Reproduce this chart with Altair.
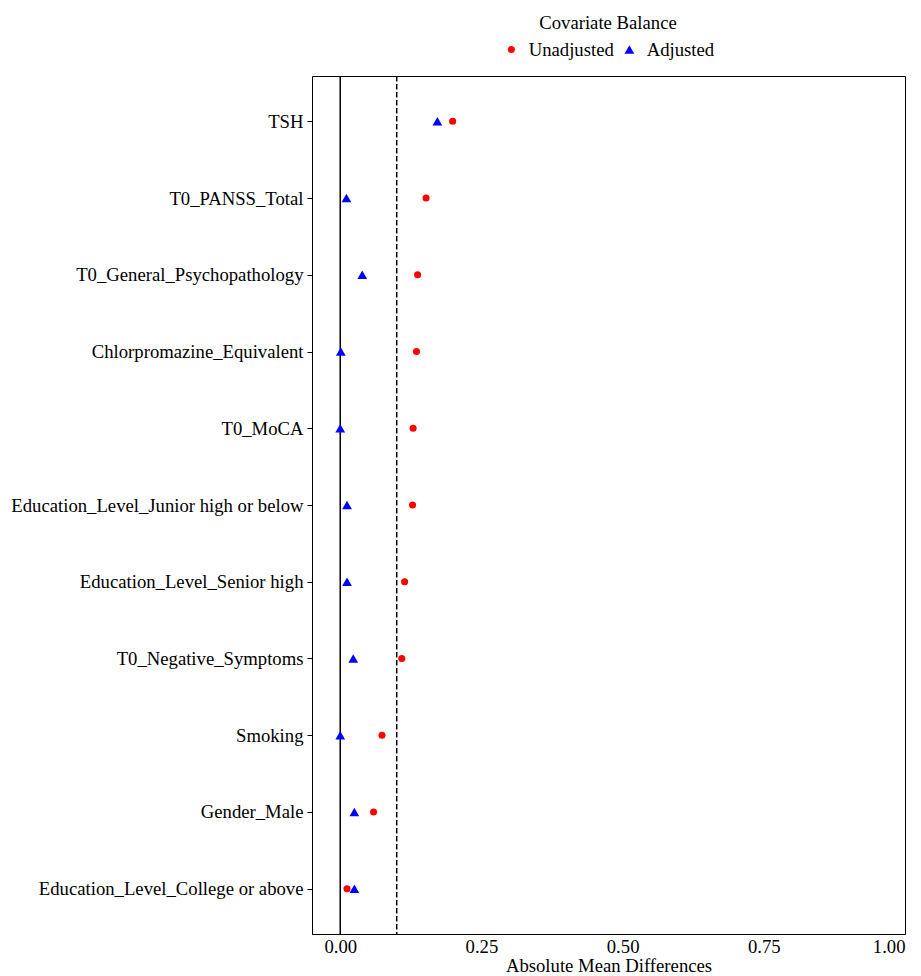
import altair as alt
import pandas as pd

covariates = [
    "TSH",
    "T0_PANSS_Total",
    "T0_General_Psychopathology",
    "Chlorpromazine_Equivalent",
    "T0_MoCA",
    "Education_Level_Junior high or below",
    "Education_Level_Senior high",
    "T0_Negative_Symptoms",
    "Smoking",
    "Gender_Male",
    "Education_Level_College or above",
]
unadjusted = [0.199, 0.152, 0.137, 0.135, 0.129, 0.128, 0.114, 0.109, 0.074, 0.059, 0.012]
adjusted = [0.172, 0.011, 0.039, 0.001, 0.000, 0.012, 0.012, 0.023, 0.000, 0.025, 0.025]
series_names = ["Unadjusted", "Adjusted"]
x_ticks = [0.0, 0.25, 0.5, 0.75, 1.0]
threshold = [0.1]
zero_line = [0.0]

rows = []
for c, u in zip(covariates, unadjusted):
    rows.append({"Covariate": c, "Value": u, "Sample": "Unadjusted", "order": 0})
for c, a in zip(covariates, adjusted):
    rows.append({"Covariate": c, "Value": a, "Sample": "Adjusted", "order": 1})
df = pd.DataFrame(rows)

FONT = "Liberation Serif"
FS = 18.7

x_scale = alt.Scale(domain=[-0.05, 1.0], nice=False, zero=False)

points = alt.Chart(df).mark_point(filled=True, opacity=1).encode(
    x=alt.X("Value:Q", scale=x_scale,
            axis=alt.Axis(values=x_ticks, format=".2f", title="Absolute Mean Differences",
                          grid=False, ticks=False, labelPadding=3, titlePadding=1)),
    y=alt.Y("Covariate:N", sort=covariates, scale=alt.Scale(padding=0.59),
            axis=alt.Axis(title=None, grid=False, tickSize=5, labelPadding=4, labelLimit=0)),
    color=alt.Color("Sample:N", scale=alt.Scale(domain=series_names, range=["red", "blue"]),
                    legend=alt.Legend(title="Covariate Balance", orient="none",
                                      legendX=190, legendY=-62, direction="horizontal",
                                      titleOrient="top", titleAnchor="middle", titlePadding=7,
                                      symbolSize=55, columnPadding=6, labelOffset=8)),
    shape=alt.Shape("Sample:N", scale=alt.Scale(domain=series_names, range=["circle", "triangle-up"])),
    size=alt.Size("Sample:N", scale=alt.Scale(domain=series_names, range=[50, 95]), legend=None),
    order=alt.Order("order:Q"),
)

zero_rule = alt.Chart(pd.DataFrame({"x": zero_line})).mark_rule(color="black", strokeWidth=1.5).encode(
    x=alt.X("x:Q", scale=x_scale)
)
thresh_rule = alt.Chart(pd.DataFrame({"x": threshold})).mark_rule(
    color="black", strokeWidth=1.5, strokeDash=[5.5, 2.5]
).encode(x=alt.X("x:Q", scale=x_scale))

chart = alt.layer(zero_rule, thresh_rule, points).properties(
    width=593,
    height=858,
    autosize=alt.AutoSizeParams(type="none"),
    padding={"left": 304, "top": 68, "right": 8, "bottom": 50},
).configure_view(
    stroke="black", strokeWidth=1
).configure_axis(
    labelFont=FONT, titleFont=FONT, labelFontSize=FS, titleFontSize=FS,
    labelColor="black", titleColor="black", domainColor="black", tickColor="black",
    titleFontWeight="normal",
).configure_legend(
    labelFont=FONT, titleFont=FONT, labelFontSize=FS, titleFontSize=FS,
    labelColor="black", titleColor="black", titleFontWeight="normal",
)

chart.save("out.html", embed_options={"renderer": "svg", "actions": False})
